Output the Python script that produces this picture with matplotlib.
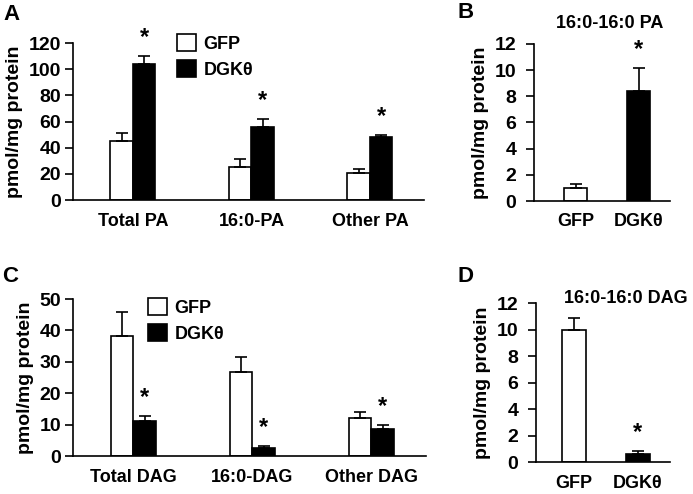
import matplotlib
matplotlib.use("Agg")
import matplotlib.pyplot as plt
from matplotlib.patches import Patch
import numpy as np

plt.rcParams['font.family'] = ['Liberation Sans', 'DejaVu Sans']
plt.rcParams['font.weight'] = 'bold'

# Panel A: PA species
a_categories = ["Total PA", "16:0-PA", "Other PA"]
a_gfp = [45, 25, 21]
a_gfp_err = [6, 6, 3]
a_dgk = [104, 56, 48]
a_dgk_err = [6, 6, 1.5]
a_sig = [True, True, True]
a_yticks = [0, 20, 40, 60, 80, 100, 120]

# Panel B: 16:0-16:0 PA
b_categories = ["GFP", "DGKθ"]
b_values = [1.0, 8.4]
b_err = [0.3, 1.8]
b_sig = [False, True]
b_yticks = [0, 2, 4, 6, 8, 10, 12]
b_title = "16:0-16:0 PA"

# Panel C: DAG species
c_categories = ["Total DAG", "16:0-DAG", "Other DAG"]
c_gfp = [38.3, 26.8, 12.0]
c_gfp_err = [7.7, 4.8, 2.0]
c_dgk = [11.2, 2.6, 8.7]
c_dgk_err = [1.4, 0.6, 1.1]
c_yticks = [0, 10, 20, 30, 40, 50]

# Panel D: 16:0-16:0 DAG
d_categories = ["GFP", "DGKθ"]
d_values = [10.0, 0.6]
d_err = [0.9, 0.25]
d_sig = [False, True]
d_yticks = [0, 2, 4, 6, 8, 10, 12]
d_title = "16:0-16:0 DAG"

legend_labels = ["GFP", "DGKθ"]
ylabel = "pmol/mg protein"

W, H = 693, 494
fig = plt.figure(figsize=(W / 100, H / 100), dpi=100)
fig.patch.set_facecolor('white')


def add_ax(left, right, bottom, top):
    return fig.add_axes([left / W, 1 - bottom / H, (right - left) / W, (bottom - top) / H])


LW = 1.2
FS = 13
YFS = 14


def style(ax, yticks, pad):
    ax.set_ylim(yticks[0], yticks[-1])
    ax.set_yticks(yticks)
    for s in ['top', 'right']:
        ax.spines[s].set_visible(False)
    ax.spines['left'].set_linewidth(LW)
    ax.spines['bottom'].set_linewidth(LW)
    ax.tick_params(axis='y', length=6, width=LW, labelsize=YFS, pad=pad)
    ax.tick_params(axis='x', length=0, labelsize=FS, pad=9)
    for t in ax.get_yticklabels() + ax.get_xticklabels():
        t.set_fontweight('bold')
    ax.set_ylabel(ylabel, fontsize=14, fontweight='bold', labelpad=4)


def star(ax, x, y):
    ax.annotate('*', xy=(x, y), xytext=(0, 5), textcoords='offset points',
                ha='center', va='bottom', fontsize=17, fontweight='bold',
                annotation_clip=False)


def grouped(ax, cats, gfp, gfp_err, dgk, dgk_err, gfp_sig, dgk_sig, xlim):
    x = np.arange(len(cats))
    w = 0.19
    ekw = dict(elinewidth=LW, capthick=LW, ecolor='black')
    ax.bar(x - w / 2, gfp, w, color='white', edgecolor='black', linewidth=LW,
           yerr=[np.zeros(len(gfp)), gfp_err], capsize=4, error_kw=ekw, zorder=2)
    ax.bar(x + w / 2, dgk, w, color='black', edgecolor='black', linewidth=LW,
           yerr=[np.zeros(len(dgk)), dgk_err], capsize=4, error_kw=ekw, zorder=2)
    ax.set_xticks(x)
    ax.set_xticklabels(cats)
    ax.set_xlim(*xlim)
    for i in range(len(cats)):
        if dgk_sig[i]:
            star(ax, x[i] + w / 2, dgk[i] + dgk_err[i])
        if gfp_sig[i]:
            star(ax, x[i] - w / 2, gfp[i] + gfp_err[i])


def single(ax, cats, vals, err, sig, xlim, title, title_xy):
    x = np.arange(len(cats))
    w = 0.38
    ekw = dict(elinewidth=LW, capthick=LW, ecolor='black')
    ax.bar(x, vals, w, color=['white', 'black'], edgecolor='black', linewidth=LW,
           yerr=[np.zeros(len(vals)), err], capsize=4, error_kw=ekw, zorder=2)
    ax.set_xticks(x)
    ax.set_xticklabels(cats)
    ax.set_xlim(*xlim)
    for i in range(len(cats)):
        if sig[i]:
            star(ax, x[i], vals[i] + err[i])
    fig.text(title_xy[0] / W, 1 - title_xy[1] / H, title, ha='center', va='center',
             fontsize=13, fontweight='bold')


def legend(ax, anchor):
    handles = [Patch(facecolor='white', edgecolor='black', linewidth=LW),
               Patch(facecolor='black', edgecolor='black', linewidth=LW)]
    ax.legend(handles, legend_labels, loc='upper left', bbox_to_anchor=anchor,
              bbox_transform=fig.transFigure, frameon=False,
              handlelength=1.05, handleheight=1.05, handletextpad=0.4,
              labelspacing=0.42, prop={'weight': 'bold', 'size': FS})


# Panel A
axA = add_ax(73, 424, 200, 43)
style(axA, a_yticks, 2.5)
grouped(axA, a_categories, a_gfp, a_gfp_err, a_dgk, a_dgk_err,
        [False] * 3, a_sig, (-0.506, 2.456))
legend(axA, (161 / W, 1 - 18 / H))

# Panel B
axB = add_ax(533.5, 670, 201, 44)
style(axB, b_yticks, 6.5)
single(axB, b_categories, b_values, b_err, b_sig, (-0.667, 1.5), b_title, (610, 23))

# Panel C
axC = add_ax(73, 426, 456, 299)
style(axC, c_yticks, 2.5)
grouped(axC, c_categories, c_gfp, c_gfp_err, c_dgk, c_dgk_err,
        [False] * 3, [True] * 3, (-0.506, 2.46))
legend(axC, (132 / W, 1 - 282 / H))

# Panel D
axD = add_ax(535.5, 670, 462, 303)
style(axD, d_yticks, 6.5)
single(axD, d_categories, d_values, d_err, d_sig, (-0.6, 1.5), d_title, (626, 298))

# Panel letters
for lab, (px, py) in zip("ABCD", [(12, 14), (466, 13), (10, 276), (466, 277)]):
    fig.text(px / W, 1 - py / H, lab, ha='center', va='center', fontsize=16,
             fontweight='bold')

fig.savefig("out.png", dpi=100, facecolor='white')
